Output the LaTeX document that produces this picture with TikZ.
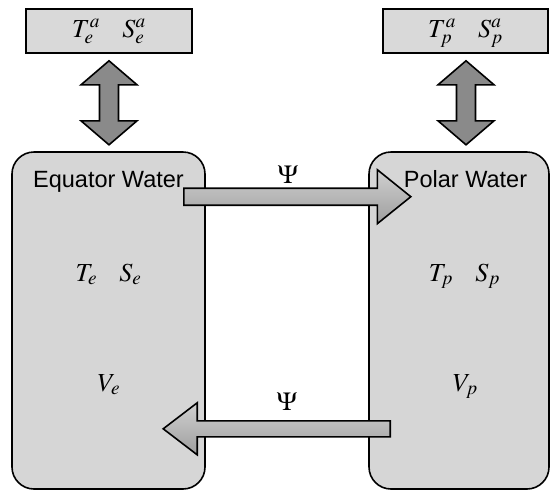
\documentclass[tikz,border=0pt]{standalone}
\usepackage{mathptmx}
\usepackage{fontspec}
\setsansfont{Liberation Sans}
\usetikzlibrary{positioning,calc}
\definecolor{boxgray}{RGB}{214,214,214}
\definecolor{airgray}{RGB}{217,217,217}
\definecolor{exchgray}{RGB}{138,138,138}
\definecolor{flowtop}{RGB}{208,208,208}
\definecolor{flowbot}{RGB}{158,158,158}
\newcommand{\symgap}{\hspace{17pt}}

\begin{document}
\begin{tikzpicture}[x=1pt,y=-1pt,
    waterbox/.style={draw, line width=1.6pt, rounded corners=22pt, fill=boxgray, minimum height=337pt},
    airbox/.style={draw, line width=1.6pt, fill=airgray, minimum height=44pt},
    exch/.style={draw, line width=1.6pt, fill=exchgray},
    flow/.style={draw, line width=1.6pt, top color=flowtop, bottom color=flowbot},
    boxname/.style={anchor=base, font=\sffamily\fontsize{23.5}{28}\selectfont},
    sym/.style={anchor=base, inner sep=0pt, scale=1.3, transform shape, font=\fontsize{20}{24}\selectfont}]
            \fill[white] (0,0) rectangle (553,491);
            \useasboundingbox (0,0) rectangle (553,491);

            % Water boxes
            \node[waterbox, minimum width=193pt] (eq) at (108.5,320.5) {};
            \node[waterbox, minimum width=180pt] (pol) at (459,320.5) {};

            % Atmosphere boxes
            \node[airbox, minimum width=166pt] (eqair) at (109,31) {};
            \node[airbox, minimum width=165pt] (polair) at (465.5,31) {};

            % Exchange arrows
            \draw[exch] ($(eqair.south)+(0,7)$) -- ++(28,24) -- ++(-18.5,0) -- ++(0,36) -- ++(18.5,0) -- ++(-28,24) -- ++(-28,-24) -- ++(18.5,0) -- ++(0,-36) -- ++(-18.5,0) -- cycle;
            \draw[exch] ($(polair.south)+(0.5,7)$) -- ++(28,24) -- ++(-18.5,0) -- ++(0,36) -- ++(18.5,0) -- ++(-28,24) -- ++(-28,-24) -- ++(18.5,0) -- ++(0,-36) -- ++(-18.5,0) -- cycle;

            % Overturning flow
            \coordinate (psiout) at ($(eq.north east)+(-22,45.5)$);
            \coordinate (psiback) at ($(pol.south west)+(22,-61)$);
            \draw[flow] (psiout) ++(0,-8.5) -- ++(193.5,0) -- ++(0,-18.5) -- ++(33.5,27) -- ++(-33.5,27) -- ++(0,-18.5) -- ++(-193.5,0) -- cycle;
            \draw[flow] (psiback) ++(0,-8) -- ++(-193,0) -- ++(0,-18) -- ++(-34,26) -- ++(34,26) -- ++(0,-18) -- ++(193,0) -- cycle;
            \node[sym] (psitop) at (288,183) {$\Psi$};
            \node[sym] (psibot) at (287,410) {$\Psi$};

            % Labels
            \node[boxname] (eqname) at (108.5,187) {Equator Water};
            \node[boxname] (polname) at (465.5,187) {Polar Water};
            \node[sym] (eqairvars) at (109,37) {$T_e^a\symgap S_e^a$};
            \node[sym] (polairvars) at (465.5,37) {$T_p^a\symgap S_p^a$};
            \node[sym] (eqvars) at (108.5,281) {$T_e\symgap S_e$};
            \node[sym] (polvars) at (464.5,281) {$T_p\symgap S_p$};
            \node[sym] (eqvol) at (109,391) {$V_e$};
            \node[sym] (polvol) at (465.5,391) {$V_p$};
        \end{tikzpicture}
\end{document}
